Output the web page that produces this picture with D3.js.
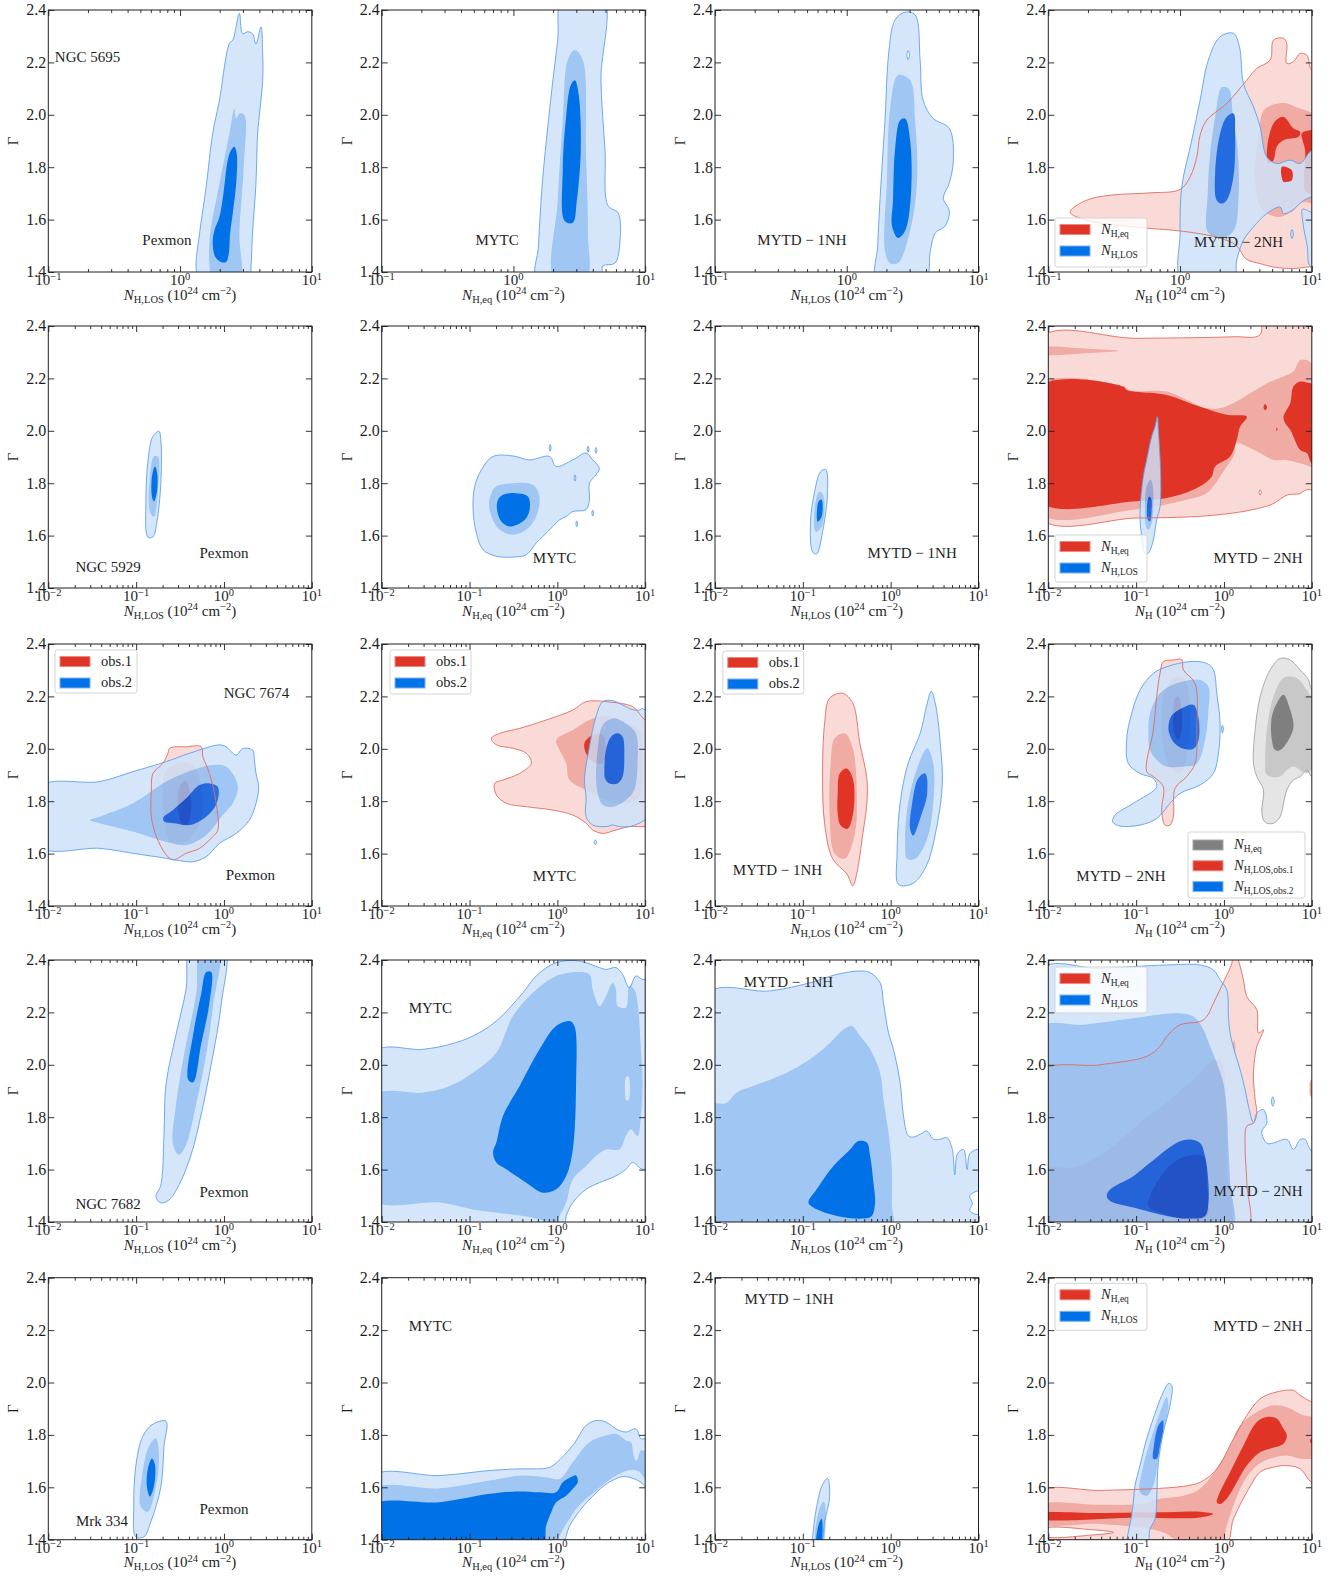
<!DOCTYPE html>
<html><head><meta charset="utf-8">
<script src="https://cdn.jsdelivr.net/npm/d3@7"></script>
<style>
body{margin:0;background:#fff;}
svg text{font-family:"Liberation Serif","Times New Roman",serif;fill:#1e1e1e;}
</style></head><body>
<svg id="fig" width="1339" height="1576"></svg>
<script>
// ---------- categories and axes ----------
const sources = ["NGC 5695", "NGC 5929", "NGC 7674", "NGC 7682", "Mrk 334"];
const models = ["Pexmon", "MYTC", "MYTD − 1NH", "MYTD − 2NH"];
const columnSubscript = ["H,LOS", "H,eq", "H,LOS", "H"];
const gammaTicks = [1.4, 1.6, 1.8, 2.0, 2.2, 2.4];
const nhDecadesByRow = [[-1, 0, 1], [-2, -1, 0, 1], [-2, -1, 0, 1], [-2, -1, 0, 1], [-2, -1, 0, 1]];

// ---------- credible-region contours: [light (outer), mid, dark (inner)] ----------
// vertices are [log10 N_H / 1e24 cm^-2, Gamma]

// NGC 5695
const n5695_pexmon = [
 [[[0.122,1.419],[0.148,1.547],[0.198,1.725],[0.248,1.929],[0.299,2.056],[0.375,2.273],[0.40,2.285],[0.45,2.387],[0.475,2.31],[0.513,2.317],[0.55,2.31],[0.576,2.27],[0.614,2.336],[0.627,2.234],[0.627,2.13],[0.589,1.929],[0.576,1.737],[0.55,1.547],[0.538,1.419],[0.526,1.37],[0.148,1.37]]],
 [[[0.274,1.674],[0.324,1.80],[0.375,1.929],[0.412,2.024],[0.425,1.986],[0.45,2.005],[0.488,1.999],[0.483,1.80],[0.45,1.547],[0.45,1.37],[0.248,1.37],[0.223,1.432],[0.223,1.521],[0.248,1.61]]],
 [[[0.412,1.878],[0.43,1.852],[0.428,1.75],[0.40,1.623],[0.38,1.547],[0.37,1.47],[0.349,1.438],[0.311,1.438],[0.268,1.457],[0.248,1.508],[0.261,1.559],[0.299,1.61],[0.329,1.699],[0.362,1.827],[0.387,1.865]]]
];
const n5695_mytc = [
 [[[0.18,1.37],[0.19,1.50],[0.221,1.749],[0.282,2.055],[0.336,2.285],[0.374,2.45],[0.679,2.45],[0.664,2.132],[0.695,1.864],[0.718,1.653],[0.794,1.626],[0.809,1.519],[0.771,1.434],[0.679,1.423],[0.664,1.37]]],
 [[[0.313,1.37],[0.336,1.672],[0.374,1.979],[0.412,2.208],[0.466,2.247],[0.527,2.208],[0.55,1.864],[0.565,1.557],[0.55,1.37]]],
 [[[0.389,1.595],[0.374,1.787],[0.397,1.979],[0.435,2.113],[0.466,2.132],[0.496,2.074],[0.511,1.864],[0.481,1.672],[0.45,1.588]]]
];
const n5695_mytd1 = [
 [[[0.229,1.37],[0.235,1.50],[0.252,1.672],[0.29,1.979],[0.321,2.247],[0.366,2.362],[0.443,2.392],[0.519,2.381],[0.557,2.208],[0.58,2.055],[0.656,1.986],[0.779,1.948],[0.809,1.825],[0.779,1.741],[0.733,1.68],[0.779,1.634],[0.748,1.576],[0.672,1.549],[0.634,1.48],[0.595,1.37]],
  [[0.456,2.228],[0.466,2.245],[0.476,2.228],[0.466,2.211]]],
 [[[0.29,1.48],[0.305,1.749],[0.328,2.017],[0.389,2.151],[0.481,2.132],[0.519,1.979],[0.534,1.749],[0.481,1.557],[0.389,1.434],[0.328,1.434]]],
 [[[0.351,1.672],[0.366,1.864],[0.405,1.979],[0.443,1.986],[0.481,1.902],[0.489,1.711],[0.443,1.557],[0.389,1.53],[0.344,1.576]]]
];
const n5695_mytd2_eq = [
 [[[-0.835,1.629],[-0.709,1.674],[-0.532,1.693],[-0.228,1.702],[0.0,1.715],[0.076,1.763],[0.127,1.839],[0.152,1.922],[0.203,1.98],[0.354,2.043],[0.506,2.132],[0.582,2.177],[0.684,2.209],[0.709,2.285],[0.785,2.292],[0.81,2.273],[0.81,2.196],[0.861,2.203],[0.911,2.234],[0.962,2.228],[1.0,2.171],[1.1,2.17],[1.1,1.40],[1.0,1.419],[0.861,1.413],[0.709,1.419],[0.608,1.432],[0.5,1.45],[0.43,1.50],[0.30,1.53],[0.10,1.55],[-0.05,1.559],[-0.354,1.572],[-0.709,1.597]]],
 [[[0.60,1.93],[0.64,2.02],[0.78,2.045],[0.88,2.03],[1.1,1.97],[1.1,1.66],[0.93,1.665],[0.85,1.63],[0.74,1.61],[0.62,1.64],[0.57,1.75]]],
 [[[0.658,1.852],[0.709,1.967],[0.785,1.992],[0.861,1.948],[0.911,1.935],[0.899,1.916],[0.785,1.903],[0.734,1.878],[0.709,1.827],[0.671,1.814]],
  [[0.924,1.929],[0.987,1.941],[1.05,1.94],[1.05,1.70],[0.987,1.699],[0.949,1.712],[0.949,1.865]]]
];
const n5695_mytd2_eqPeak = [[], [], [[[0.772,1.801],[0.848,1.788],[0.848,1.75],[0.81,1.744],[0.785,1.744]]]];
const n5695_mytd2_los = [
 [[[0.013,1.37],[0.0,1.547],[0.013,1.725],[0.089,1.903],[0.152,2.056],[0.215,2.209],[0.304,2.298],[0.405,2.311],[0.451,2.26],[0.481,2.12],[0.557,2.031],[0.608,1.954],[0.658,1.839],[0.734,1.814],[0.835,1.827],[0.911,1.814],[1.0,1.865],[1.1,1.87],[1.1,1.69],[1.0,1.687],[0.93,1.67],[0.85,1.635],[0.785,1.623],[0.759,1.648],[0.658,1.623],[0.557,1.572],[0.481,1.521],[0.43,1.445],[0.405,1.37]],
  [[0.93,1.64],[0.985,1.63],[1.1,1.6],[1.1,1.42],[0.99,1.42],[0.965,1.5],[0.935,1.58]],
  [[0.84,1.545],[0.85,1.562],[0.86,1.545],[0.85,1.528]]],
 [[[0.215,1.55],[0.21,1.70],[0.228,1.85],[0.27,2.0],[0.316,2.105],[0.37,2.10],[0.40,2.0],[0.44,1.85],[0.445,1.70],[0.41,1.56],[0.33,1.53]]],
 [[[0.278,1.674],[0.266,1.776],[0.304,1.929],[0.354,1.992],[0.405,2.005],[0.418,1.929],[0.405,1.763],[0.354,1.674],[0.316,1.661]]]
];

// NGC 5929
const n5929_pexmon = [
 [[[-0.866,1.595],[-0.889,1.73],[-0.866,1.883],[-0.809,1.979],[-0.74,1.998],[-0.718,1.96],[-0.718,1.806],[-0.763,1.653],[-0.809,1.595]]],
 [[[-0.843,1.691],[-0.843,1.825],[-0.798,1.902],[-0.752,1.902],[-0.752,1.768],[-0.798,1.672]]],
 [[[-0.82,1.749],[-0.82,1.825],[-0.786,1.864],[-0.763,1.844],[-0.763,1.768],[-0.798,1.73]]]
];
const n5929_mytc = [
 [[[-0.695,1.521],[-0.846,1.546],[-0.922,1.61],[-0.96,1.699],[-0.941,1.788],[-0.865,1.851],[-0.733,1.902],[-0.506,1.904],[-0.316,1.889],[-0.089,1.902],[-0.014,1.864],[0.176,1.889],[0.327,1.915],[0.403,1.889],[0.478,1.857],[0.44,1.832],[0.365,1.8],[0.365,1.737],[0.327,1.699],[0.176,1.692],[0.1,1.673],[0.024,1.66],[-0.051,1.635],[-0.165,1.597],[-0.241,1.572],[-0.354,1.527],[-0.506,1.518]],
  [[-0.092,1.935],[-0.082,1.948],[-0.072,1.935],[-0.082,1.922]],
  [[0.211,1.645],[0.221,1.656],[0.231,1.645],[0.221,1.634]],
  [[0.393,1.686],[0.403,1.697],[0.413,1.686],[0.403,1.675]],
  [[0.34,1.93],[0.35,1.942],[0.36,1.93],[0.35,1.918]],
  [[0.43,1.925],[0.44,1.936],[0.45,1.925],[0.44,1.914]],
  [[0.19,1.82],[0.2,1.832],[0.21,1.82],[0.2,1.808]]],
 [[[-0.751,1.762],[-0.695,1.788],[-0.506,1.8],[-0.278,1.794],[-0.203,1.749],[-0.241,1.673],[-0.354,1.622],[-0.506,1.603],[-0.657,1.622],[-0.751,1.673],[-0.778,1.724]]],
 [[[-0.676,1.737],[-0.619,1.756],[-0.468,1.762],[-0.335,1.749],[-0.316,1.699],[-0.373,1.66],[-0.543,1.635],[-0.638,1.654],[-0.687,1.699]]]
];
const n5929_mytd1 = [
 [[[-0.889,1.538],[-0.912,1.653],[-0.866,1.768],[-0.798,1.844],[-0.74,1.852],[-0.718,1.768],[-0.775,1.615],[-0.843,1.53]]],
 [[[-0.855,1.615],[-0.855,1.73],[-0.809,1.768],[-0.763,1.749],[-0.786,1.634]]],
 [[[-0.832,1.653],[-0.821,1.73],[-0.786,1.737],[-0.786,1.672]]]
];
const n5929_mytd2_eq = [
 [[[-2.1,2.353],[-1.0,2.353],[0.1,2.359],[0.41,2.366],[0.45,2.45],[1.1,2.45],[1.1,1.78],[0.94,1.775],[0.86,1.76],[0.72,1.755],[0.55,1.72],[0.34,1.70],[0.1,1.686],[-0.3,1.673],[-1.0,1.667],[-2.1,1.667]],
  [[0.40,1.765],[0.412,1.775],[0.425,1.765],[0.412,1.755]]],
 [[[-2.1,2.175],[-1.146,2.169],[-1.07,2.154],[-0.652,2.15],[-0.424,2.118],[-0.196,2.086],[0.0,2.09],[0.298,2.143],[0.488,2.181],[0.678,2.207],[0.791,2.226],[0.867,2.27],[0.943,2.27],[1.0,2.258],[1.1,2.25],[1.1,1.864],[0.867,1.876],[0.716,1.889],[0.563,1.889],[0.412,1.915],[0.26,1.94],[0.146,1.953],[0.108,1.902],[0.032,1.864],[-0.044,1.826],[-0.12,1.788],[-0.196,1.762],[-0.424,1.737],[-1.032,1.699],[-2.1,1.686]],
  [[-2.1,2.315],[-1.5,2.312],[-1.2,2.305],[-1.5,2.298],[-2.1,2.295]]],
 [[[-2.1,2.169],[-1.146,2.169],[-1.108,2.156],[-0.652,2.137],[-0.272,2.092],[0.032,2.061],[0.26,2.054],[0.184,2.016],[0.146,1.966],[0.07,1.902],[-0.101,1.864],[-0.139,1.826],[-0.272,1.788],[-0.576,1.749],[-1.032,1.73],[-2.1,1.73]],
  [[0.678,2.054],[0.754,2.105],[0.791,2.169],[0.867,2.188],[1.0,2.181],[1.1,2.18],[1.1,1.876],[1.0,1.876],[0.943,1.915],[0.867,1.927],[0.754,2.004],[0.697,2.029]],
  [[0.45,2.09],[0.469,2.102],[0.49,2.09],[0.469,2.078]],
  [[0.595,2.006],[0.602,2.013],[0.61,2.006],[0.602,1.999]]]
];
const n5929_mytd2_los = [
 [[[-0.899,1.533],[-0.937,1.597],[-0.956,1.686],[-0.918,1.826],[-0.88,1.889],[-0.823,1.978],[-0.785,2.016],[-0.758,2.054],[-0.747,2.003],[-0.72,1.826],[-0.728,1.711],[-0.766,1.661],[-0.804,1.584],[-0.861,1.533]]],
 [[[-0.887,1.635],[-0.899,1.711],[-0.88,1.788],[-0.834,1.813],[-0.811,1.788],[-0.804,1.711],[-0.823,1.648],[-0.861,1.622]]],
 [[[-0.868,1.661],[-0.876,1.711],[-0.853,1.749],[-0.83,1.743],[-0.823,1.699],[-0.842,1.654]]]
];

// NGC 7674 (two observations)
const n7674_pexmon_obs1 = [
 [[[-0.619,2.002],[-0.43,2.008],[-0.26,2.008],[-0.24,1.97],[-0.165,1.906],[-0.089,1.792],[-0.07,1.69],[-0.127,1.665],[-0.278,1.62],[-0.43,1.601],[-0.581,1.576],[-0.657,1.595],[-0.77,1.665],[-0.827,1.741],[-0.827,1.843],[-0.808,1.906],[-0.695,1.945],[-0.638,1.983]]],
 [[[-0.695,1.843],[-0.657,1.919],[-0.506,1.945],[-0.354,1.938],[-0.26,1.855],[-0.24,1.766],[-0.316,1.69],[-0.468,1.639],[-0.619,1.652],[-0.676,1.728]]],
 [[[-0.524,1.83],[-0.487,1.868],[-0.43,1.875],[-0.392,1.843],[-0.373,1.766],[-0.411,1.716],[-0.468,1.709],[-0.516,1.754]]]
];
const n7674_pexmon_obs2 = [
 [[[-2.1,1.855],[-1.414,1.875],[-1.035,1.913],[-0.657,1.951],[-0.392,1.983],[-0.051,2.015],[0.024,2.008],[0.138,1.976],[0.213,2.001],[0.327,1.995],[0.346,1.957],[0.365,1.906],[0.395,1.855],[0.365,1.792],[0.289,1.728],[0.138,1.677],[-0.051,1.639],[-0.203,1.588],[-0.354,1.569],[-0.506,1.573],[-0.657,1.582],[-1.035,1.601],[-1.414,1.62],[-2.1,1.626]]],
 [[[-1.527,1.728],[-1.414,1.741],[-1.035,1.792],[-0.657,1.875],[-0.354,1.919],[-0.127,1.938],[0.024,1.932],[0.138,1.881],[0.157,1.843],[0.1,1.792],[-0.013,1.747],[-0.203,1.671],[-0.43,1.633],[-0.733,1.652],[-1.035,1.684],[-1.414,1.716]]],
 [[[-0.695,1.735],[-0.581,1.766],[-0.43,1.811],[-0.278,1.862],[-0.165,1.868],[-0.07,1.855],[-0.082,1.792],[-0.203,1.741],[-0.392,1.709],[-0.562,1.716],[-0.676,1.722]]]
];
const n7674_mytc_obs1 = [
 [[[-0.751,2.04],[-0.657,2.059],[-0.43,2.078],[-0.127,2.11],[0.176,2.148],[0.327,2.18],[0.554,2.18],[0.857,2.161],[0.932,2.135],[1.0,2.11],[1.1,2.1],[1.1,1.71],[1.0,1.703],[0.819,1.703],[0.667,1.69],[0.516,1.677],[0.403,1.69],[0.327,1.716],[0.176,1.747],[-0.051,1.766],[-0.354,1.779],[-0.581,1.792],[-0.695,1.824],[-0.714,1.868],[-0.619,1.881],[-0.43,1.906],[-0.297,1.945],[-0.354,1.983],[-0.506,2.002],[-0.695,2.015]]],
 [[[-0.013,2.034],[0.176,2.072],[0.403,2.116],[0.592,2.123],[0.781,2.097],[0.932,2.072],[0.97,1.945],[0.932,1.817],[0.781,1.792],[0.554,1.805],[0.327,1.843],[0.138,1.881],[0.1,1.945],[0.024,1.996]]],
 [[[0.308,2.021],[0.403,2.053],[0.516,2.053],[0.554,1.996],[0.516,1.945],[0.44,1.945],[0.346,1.97]]]
];
const n7674_mytc_obs2 = [
 [[[0.327,1.817],[0.308,1.881],[0.365,2.008],[0.44,2.123],[0.516,2.18],[0.63,2.184],[0.743,2.167],[0.85,2.15],[0.932,2.148],[0.97,2.154],[1.0,2.148],[1.1,2.14],[1.1,1.72],[1.0,1.728],[0.932,1.716],[0.819,1.703],[0.705,1.703],[0.63,1.709],[0.554,1.703],[0.403,1.709],[0.327,1.741]],
  [[0.42,1.643],[0.433,1.652],[0.446,1.643],[0.433,1.634]]],
 [[[0.44,1.894],[0.459,1.995],[0.516,2.091],[0.63,2.116],[0.781,2.097],[0.894,2.059],[0.913,1.945],[0.875,1.843],[0.781,1.805],[0.63,1.779],[0.516,1.786],[0.459,1.83]]],
 [[[0.535,1.919],[0.554,1.996],[0.611,2.046],[0.686,2.059],[0.743,2.046],[0.762,1.97],[0.743,1.894],[0.686,1.868],[0.592,1.868],[0.543,1.887]]]
];
const n7674_mytd1_obs1 = [
 [[[-0.752,2.097],[-0.695,2.193],[-0.546,2.212],[-0.431,2.174],[-0.351,2.021],[-0.271,1.887],[-0.271,1.791],[-0.317,1.676],[-0.386,1.523],[-0.431,1.477],[-0.5,1.523],[-0.66,1.58],[-0.752,1.714],[-0.775,1.906]]],
 [[[-0.683,1.944],[-0.637,2.04],[-0.523,2.059],[-0.431,2.002],[-0.386,1.829],[-0.408,1.676],[-0.523,1.58],[-0.637,1.599],[-0.695,1.752]]],
 [[[-0.603,1.829],[-0.58,1.906],[-0.5,1.925],[-0.431,1.887],[-0.42,1.772],[-0.489,1.695],[-0.569,1.707],[-0.603,1.752]]]
];
const n7674_mytd1_obs2 = [
 [[[0.084,1.484],[0.073,1.599],[0.107,1.791],[0.198,1.944],[0.336,2.059],[0.416,2.174],[0.462,2.22],[0.508,2.174],[0.565,2.021],[0.588,1.867],[0.531,1.714],[0.416,1.561],[0.279,1.492],[0.164,1.477]]],
 [[[0.164,1.638],[0.198,1.791],[0.301,1.925],[0.416,2.002],[0.485,1.944],[0.485,1.791],[0.416,1.657],[0.279,1.58],[0.187,1.58]]],
 [[[0.221,1.695],[0.244,1.791],[0.313,1.887],[0.393,1.906],[0.416,1.829],[0.336,1.734],[0.256,1.669]]]
];
const n7674_mytd2_eq = [
 [[[0.45,1.728],[0.431,1.766],[0.45,1.843],[0.374,1.894],[0.336,1.944],[0.355,2.072],[0.412,2.199],[0.526,2.301],[0.64,2.345],[0.754,2.339],[0.868,2.301],[0.962,2.263],[1.0,2.224],[1.1,2.2],[1.1,1.894],[1.0,1.894],[0.943,1.919],[0.868,1.894],[0.791,1.881],[0.716,1.843],[0.678,1.792],[0.64,1.741],[0.564,1.716],[0.488,1.716]]],
 [[[0.469,1.944],[0.488,2.072],[0.564,2.199],[0.678,2.27],[0.83,2.27],[0.943,2.224],[1.0,2.199],[1.1,2.19],[1.1,1.919],[1.0,1.919],[0.943,1.906],[0.791,1.932],[0.716,1.919],[0.64,1.894],[0.526,1.894],[0.477,1.906]]],
 [[[0.545,2.034],[0.545,2.123],[0.602,2.174],[0.678,2.206],[0.754,2.148],[0.792,2.085],[0.735,2.034],[0.64,1.995],[0.583,1.995]]]
];
const n7674_mytd2_obs1 = [
 [[[-0.69,2.333],[-0.576,2.339],[-0.481,2.341],[-0.462,2.301],[-0.33,2.25],[-0.31,2.072],[-0.329,1.944],[-0.424,1.894],[-0.557,1.849],[-0.576,1.741],[-0.614,1.709],[-0.671,1.709],[-0.709,1.766],[-0.69,1.855],[-0.804,1.894],[-0.88,1.913],[-0.804,2.072],[-0.766,2.199],[-0.728,2.288]]],
 [[[-0.709,2.135],[-0.671,2.224],[-0.538,2.275],[-0.443,2.263],[-0.386,2.135],[-0.424,1.97],[-0.5,1.906],[-0.614,1.932],[-0.69,2.008]]],
 [[[-0.576,2.135],[-0.557,2.193],[-0.519,2.199],[-0.481,2.148],[-0.481,2.072],[-0.519,2.034],[-0.567,2.059]]]
];
const n7674_mytd2_obs2 = [
 [[[-0.652,2.313],[-0.804,2.288],[-0.956,2.224],[-1.07,2.11],[-1.108,2.034],[-1.089,1.944],[-0.956,1.906],[-0.804,1.887],[-0.766,1.855],[-1.032,1.792],[-1.24,1.747],[-1.267,1.721],[-1.183,1.705],[-0.956,1.709],[-0.766,1.734],[-0.614,1.792],[-0.5,1.83],[-0.272,1.862],[-0.12,1.906],[-0.063,1.983],[-0.044,2.097],[-0.082,2.212],[-0.12,2.301],[-0.196,2.326],[-0.386,2.333]],
  [[-0.027,2.075],[-0.017,2.09],[-0.007,2.075],[-0.017,2.06]]],
 [[[-0.861,2.059],[-0.842,2.135],[-0.728,2.212],[-0.538,2.25],[-0.272,2.263],[-0.177,2.237],[-0.177,2.148],[-0.215,2.034],[-0.31,1.944],[-0.462,1.932],[-0.652,1.932],[-0.766,1.957],[-0.842,1.995]]],
 [[[-0.633,2.082],[-0.595,2.127],[-0.462,2.158],[-0.348,2.168],[-0.291,2.12],[-0.291,2.031],[-0.348,2.0],[-0.462,2.0],[-0.557,2.019],[-0.614,2.05]]]
];

// NGC 7682
const n7682_pexmon = [
 [[[-0.775,1.496],[-0.718,1.542],[-0.683,1.733],[-0.66,1.925],[-0.546,2.116],[-0.431,2.289],[-0.374,2.45],[0.0,2.45],[-0.031,2.231],[-0.145,2.002],[-0.26,1.81],[-0.374,1.657],[-0.511,1.542],[-0.626,1.484],[-0.718,1.473]]],
 [[[-0.58,1.695],[-0.546,1.848],[-0.454,2.04],[-0.317,2.27],[-0.26,2.45],[-0.054,2.45],[-0.122,2.231],[-0.202,2.04],[-0.317,1.848],[-0.431,1.695],[-0.511,1.657]]],
 [[[-0.408,1.944],[-0.351,2.116],[-0.26,2.27],[-0.202,2.354],[-0.145,2.354],[-0.168,2.231],[-0.26,2.078],[-0.351,1.933]]]
];
const n7682_mytc = [
 [[[-2.1,2.046],[-1.527,2.059],[-1.224,2.078],[-0.96,2.11],[-0.695,2.167],[-0.392,2.275],[-0.241,2.339],[-0.014,2.39],[0.251,2.396],[0.478,2.371],[0.554,2.364],[0.667,2.371],[0.743,2.345],[0.819,2.294],[0.894,2.339],[0.97,2.326],[1.1,2.33],[1.1,1.62],[0.97,1.601],[0.857,1.627],[0.781,1.601],[0.667,1.576],[0.478,1.55],[0.327,1.525],[0.176,1.474],[0.1,1.423],[0.06,1.35],[-2.1,1.35]]],
 [[[-2.1,1.881],[-1.527,1.894],[-1.224,1.919],[-0.96,1.97],[-0.695,2.046],[-0.506,2.186],[-0.278,2.275],[-0.014,2.339],[0.251,2.354],[0.365,2.345],[0.403,2.288],[0.478,2.224],[0.554,2.263],[0.63,2.313],[0.667,2.288],[0.686,2.224],[0.781,2.218],[0.819,2.301],[0.875,2.288],[0.913,2.237],[0.951,2.059],[0.97,1.932],[0.951,1.805],[0.913,1.728],[0.838,1.754],[0.781,1.728],[0.705,1.677],[0.554,1.677],[0.44,1.652],[0.327,1.614],[0.176,1.563],[0.1,1.474],[0.024,1.423],[-0.03,1.39],[-0.2,1.41],[-0.392,1.423],[-0.96,1.448],[-1.338,1.474],[-2.1,1.486]],
  [[0.77,1.90],[0.785,1.955],[0.81,1.955],[0.825,1.90],[0.81,1.865],[0.785,1.865]]],
 [[[-0.733,1.665],[-0.695,1.703],[-0.619,1.805],[-0.43,1.919],[-0.203,2.059],[-0.014,2.148],[0.138,2.167],[0.194,2.148],[0.213,1.932],[0.176,1.677],[0.1,1.576],[-0.014,1.525],[-0.165,1.512],[-0.354,1.55],[-0.581,1.601],[-0.695,1.627]]]
];
const n7682_mytd1 = [
 [[[-2.1,2.269],[-1.373,2.282],[-0.918,2.313],[-0.614,2.345],[-0.348,2.358],[-0.234,2.352],[-0.12,2.313],[-0.082,2.237],[-0.025,2.123],[0.032,2.059],[0.108,1.932],[0.146,1.805],[0.203,1.728],[0.27,1.725],[0.336,1.735],[0.412,1.747],[0.488,1.716],[0.564,1.716],[0.64,1.722],[0.70,1.68],[0.73,1.58],[0.76,1.66],[0.83,1.677],[0.87,1.60],[0.9,1.66],[0.981,1.677],[1.1,1.68],[1.1,1.35],[-2.1,1.35]],
  [[1.05,1.52],[0.96,1.515],[0.90,1.50],[0.93,1.47],[0.90,1.445],[0.96,1.43],[1.05,1.435]]],
 [[[-2.1,1.843],[-1.867,1.855],[-1.753,1.894],[-1.563,1.919],[-1.183,1.97],[-0.918,2.021],[-0.69,2.084],[-0.538,2.135],[-0.443,2.148],[-0.348,2.11],[-0.234,2.059],[-0.12,1.97],[-0.082,1.868],[-0.025,1.741],[0.013,1.614],[0.013,1.474],[-0.006,1.35],[-2.1,1.35]]],
 [[[-0.937,1.474],[-0.842,1.525],[-0.652,1.614],[-0.462,1.677],[-0.367,1.709],[-0.272,1.703],[-0.234,1.652],[-0.196,1.55],[-0.177,1.474],[-0.215,1.423],[-0.31,1.413],[-0.614,1.423],[-0.88,1.455]]]
];
const n7682_mytd2_eq = [
 [[[-2.1,1.969],[-1.411,2.0],[-0.88,2.032],[-0.728,2.07],[-0.652,2.108],[-0.5,2.153],[-0.272,2.165],[-0.196,2.184],[-0.12,2.235],[0.006,2.324],[0.089,2.387],[0.108,2.45],[0.146,2.42],[0.222,2.324],[0.26,2.26],[0.374,2.21],[0.393,2.121],[0.45,2.134],[0.412,2.1],[0.374,2.07],[0.336,1.969],[0.355,1.867],[0.374,1.816],[0.336,1.778],[0.26,1.765],[0.241,1.677],[0.26,1.55],[0.241,1.35],[-2.1,1.35]]],
 [[[-2.1,1.60],[-1.7,1.61],[-1.3,1.68],[-0.95,1.78],[-0.6,1.87],[-0.3,1.96],[-0.1,2.02],[-0.02,2.0],[0.02,1.85],[0.04,1.6],[0.03,1.35],[-2.1,1.35]],
  [[0.10,2.07],[0.115,2.095],[0.13,2.07],[0.12,2.04],[0.105,2.04]],
  [[0.985,1.88],[0.975,1.91],[0.985,1.94],[1.05,1.94],[1.05,1.88]]],
 [[[-0.861,1.461],[-0.766,1.55],[-0.576,1.626],[-0.424,1.651],[-0.234,1.651],[-0.196,1.55],[-0.196,1.423],[-0.424,1.41],[-0.728,1.436]]]
];
const n7682_mytd2_los = [
 [[[-2.1,2.362],[-1.411,2.368],[-0.652,2.381],[-0.272,2.381],[-0.12,2.362],[-0.044,2.324],[0.032,2.286],[0.051,2.184],[0.07,2.121],[0.127,2.045],[0.184,1.981],[0.241,1.905],[0.279,1.842],[0.336,1.778],[0.374,1.816],[0.45,1.829],[0.488,1.778],[0.43,1.745],[0.49,1.70],[0.564,1.702],[0.716,1.715],[0.792,1.677],[0.868,1.715],[0.924,1.715],[0.962,1.689],[1.1,1.6],[1.1,1.35],[-2.1,1.35]],
  [[0.54,1.86],[0.556,1.878],[0.572,1.86],[0.556,1.842]]],
 [[[-2.1,2.14],[-1.601,2.153],[-1.032,2.178],[-0.538,2.197],[-0.348,2.184],[-0.234,2.134],[-0.158,2.07],[-0.082,2.007],[-0.006,1.93],[0.032,1.829],[0.051,1.677],[0.07,1.55],[0.07,1.35],[-2.1,1.35]]],
 [[[-1.335,1.499],[-1.297,1.524],[-1.032,1.575],[-0.842,1.626],[-0.652,1.677],[-0.5,1.708],[-0.386,1.715],[-0.272,1.702],[-0.215,1.651],[-0.177,1.55],[-0.177,1.474],[-0.215,1.423],[-0.424,1.413],[-0.652,1.423],[-1.032,1.455],[-1.297,1.48]]]
];

// Mrk 334
const mrk334_pexmon = [
 [[[-1.004,1.411],[-1.027,1.526],[-1.004,1.68],[-0.924,1.795],[-0.809,1.841],[-0.66,1.852],[-0.683,1.756],[-0.718,1.603],[-0.832,1.469],[-0.912,1.411]]],
 [[[-0.947,1.526],[-0.924,1.661],[-0.855,1.756],[-0.775,1.787],[-0.74,1.718],[-0.775,1.603],[-0.866,1.507]]],
 [[[-0.878,1.603],[-0.866,1.672],[-0.82,1.71],[-0.786,1.687],[-0.798,1.603],[-0.843,1.565]]]
];
const mrk334_mytc = [
 [[[-2.1,1.642],[-1.338,1.645],[-0.77,1.664],[-0.468,1.67],[-0.127,1.673],[-0.051,1.683],[0.176,1.76],[0.327,1.836],[0.44,1.855],[0.554,1.849],[0.667,1.823],[0.781,1.811],[0.894,1.823],[0.951,1.785],[0.989,1.785],[1.1,1.78],[1.1,1.60],[1.0,1.603],[0.95,1.62],[0.85,1.635],[0.748,1.641],[0.62,1.625],[0.519,1.603],[0.40,1.565],[0.29,1.526],[0.15,1.46],[0.004,1.37],[-2.1,1.37]]],
 [[[-2.1,1.591],[-1.338,1.596],[-0.77,1.626],[-0.392,1.645],[-0.127,1.638],[0.024,1.632],[0.176,1.696],[0.365,1.772],[0.554,1.798],[0.667,1.804],[0.781,1.779],[0.838,1.772],[0.87,1.72],[0.90,1.70],[0.95,1.74],[1.0,1.74],[1.1,1.74],[1.1,1.60],[1.0,1.63],[0.93,1.66],[0.82,1.665],[0.70,1.65],[0.634,1.638],[0.45,1.59],[0.233,1.526],[0.10,1.46],[-0.11,1.37],[-2.1,1.37]]],
 [[[-2.1,1.53],[-1.338,1.543],[-0.77,1.575],[-0.468,1.584],[-0.203,1.581],[-0.014,1.581],[0.062,1.619],[0.176,1.642],[0.213,1.645],[0.232,1.619],[0.176,1.594],[0.1,1.568],[-0.014,1.543],[-0.07,1.505],[-0.127,1.454],[-0.184,1.37],[-2.1,1.37]]]
];
const mrk334_mytd1 = [
 [[[-0.889,1.411],[-0.843,1.526],[-0.775,1.611],[-0.718,1.634],[-0.695,1.565],[-0.752,1.469],[-0.809,1.37],[-0.9,1.37]]],
 [[[-0.855,1.37],[-0.821,1.507],[-0.763,1.546],[-0.74,1.507],[-0.786,1.37]]],
 [[[-0.843,1.37],[-0.821,1.457],[-0.786,1.48],[-0.775,1.442],[-0.798,1.37]]]
];
const mrk334_mytd2_eq = [
 [[[-2.1,1.581],[-1.411,1.588],[-0.842,1.594],[-0.462,1.604],[-0.272,1.619],[-0.082,1.67],[0.108,1.785],[0.26,1.874],[0.412,1.938],[0.602,1.964],[0.792,1.97],[0.868,1.951],[1.0,1.926],[1.1,1.92],[1.1,1.62],[1.0,1.619],[0.868,1.67],[0.716,1.683],[0.564,1.677],[0.412,1.658],[0.26,1.581],[0.108,1.479],[-0.006,1.37],[-2.1,1.37]],
  [[-2.05,1.441],[-1.5,1.438],[-1.259,1.428],[-1.5,1.418],[-2.05,1.415]]],
 [[[-2.1,1.53],[-1.411,1.533],[-0.956,1.536],[-0.728,1.556],[-0.462,1.568],[-0.272,1.594],[0.032,1.734],[0.184,1.836],[0.374,1.887],[0.564,1.913],[0.716,1.906],[0.87,1.88],[1.1,1.85],[1.1,1.72],[0.868,1.709],[0.716,1.721],[0.526,1.709],[0.374,1.683],[0.222,1.619],[0.108,1.53],[0.032,1.454],[-0.044,1.37],[-0.424,1.37],[-0.652,1.422],[-0.842,1.441],[-1.411,1.46],[-2.1,1.464]]],
 [[[-2.1,1.498],[-1.411,1.502],[-0.652,1.505],[-0.272,1.507],[-0.12,1.498],[-0.272,1.485],[-1.032,1.484],[-2.1,1.482]],
  [[-0.082,1.543],[-0.063,1.568],[0.07,1.658],[0.222,1.76],[0.374,1.849],[0.488,1.868],[0.602,1.862],[0.678,1.823],[0.716,1.798],[0.678,1.766],[0.412,1.734],[0.26,1.683],[0.146,1.619],[0.032,1.556],[-0.044,1.536]],
  [[0.985,1.77],[0.99,1.786],[1.05,1.786],[1.05,1.77]]]
];
const mrk334_mytd2_los = [
 [[[-1.089,1.37],[-1.051,1.492],[-1.032,1.543],[-1.013,1.607],[-0.956,1.683],[-0.88,1.785],[-0.766,1.9],[-0.69,1.964],[-0.633,1.996],[-0.595,1.989],[-0.614,1.913],[-0.69,1.811],[-0.747,1.696],[-0.766,1.556],[-0.785,1.479],[-0.842,1.441],[-0.88,1.37]]],
 [[[-0.956,1.581],[-0.918,1.683],[-0.842,1.772],[-0.728,1.887],[-0.652,1.945],[-0.633,1.913],[-0.69,1.811],[-0.747,1.709],[-0.804,1.607],[-0.88,1.568]]],
 [[[-0.804,1.709],[-0.797,1.76],[-0.747,1.836],[-0.697,1.855],[-0.69,1.823],[-0.728,1.76],[-0.766,1.709]]]
];

// ---------- styling ----------
const palettes = {
  blue: {fill: ["#d6e6fa", "#a0c6f4", "#0071e6"], line: "#5ea0ec", swatch: "#0071e6", edge: "#7fb4f0"},
  red:  {fill: ["#f9dad6", "#f0aba4", "#e03526"], line: "#e26b5f", swatch: "#e03526", edge: "#ec8a80"},
  grey: {fill: ["#e5e5e5", "#c8c8c8", "#7f7f7f"], line: "#a3a3a3", swatch: "#808080", edge: "#a8a8a8"}
};
const TOP = 0.85; // opacity of a series drawn over another

const nhEq = {t: "N", sub: "H,eq"}, nhLos = {t: "N", sub: "H,LOS"};
const legendNH = [["red", nhEq], ["blue", nhLos]];
const legendObs = [["red", {t: "obs.1"}], ["blue", {t: "obs.2"}]];
const legendObs3 = [["grey", nhEq], ["red", {t: "N", sub: "H,LOS,obs.1"}], ["blue", {t: "N", sub: "H,LOS,obs.2"}]];

// panel table: row, column, series (in drawing order), annotation anchors in axes fractions, legend box in px
const panels = [
 {r:0,c:0, s:[{d:n5695_pexmon,c:"blue"}], src:[0.149,0.197], mdl:[0.450,0.897]},
 {r:0,c:1, s:[{d:n5695_mytc,c:"blue"}], mdl:[0.438,0.897]},
 {r:0,c:2, s:[{d:n5695_mytd1,c:"blue"}], mdl:[0.330,0.897]},
 {r:0,c:3, s:[{d:n5695_mytd2_eq,c:"red"},{d:n5695_mytd2_los,c:"blue",a:TOP},{d:n5695_mytd2_eqPeak,c:"red",noLine:true}], mdl:[0.722,0.905], leg:{box:[6.7,208,92,49],items:legendNH}},
 {r:1,c:0, s:[{d:n5929_pexmon,c:"blue"}], src:[0.227,0.939], mdl:[0.667,0.885]},
 {r:1,c:1, s:[{d:n5929_mytc,c:"blue"}], mdl:[0.656,0.905]},
 {r:1,c:2, s:[{d:n5929_mytd1,c:"blue"}], mdl:[0.748,0.885]},
 {r:1,c:3, s:[{d:n5929_mytd2_eq,c:"red"},{d:n5929_mytd2_los,c:"blue",a:TOP}], mdl:[0.796,0.903], leg:{box:[6.7,209,92,47],items:legendNH}},
 {r:2,c:0, s:[{d:n7674_pexmon_obs1,c:"red"},{d:n7674_pexmon_obs2,c:"blue",a:TOP}], src:[0.790,0.206], mdl:[0.767,0.901], leg:{box:[6.7,6,82,43],items:legendObs}},
 {r:2,c:1, s:[{d:n7674_mytc_obs1,c:"red"},{d:n7674_mytc_obs2,c:"blue",a:TOP}], mdl:[0.656,0.903], leg:{box:[8.3,6,81,44],items:legendObs}},
 {r:2,c:2, s:[{d:n7674_mytd1_obs1,c:"red"},{d:n7674_mytd1_obs2,c:"blue",a:TOP}], mdl:[0.237,0.882], leg:{box:[7.8,7,81,43],items:legendObs}},
 {r:2,c:3, s:[{d:n7674_mytd2_eq,c:"grey"},{d:n7674_mytd2_obs1,c:"red"},{d:n7674_mytd2_obs2,c:"blue",a:TOP}], mdl:[0.276,0.905], leg:{box:[139.7,188,117,66],items:legendObs3}},
 {r:3,c:0, s:[{d:n7682_pexmon,c:"blue"}], src:[0.227,0.950], mdl:[0.667,0.905]},
 {r:3,c:1, s:[{d:n7682_mytc,c:"blue"}], mdl:[0.185,0.201]},
 {r:3,c:2, s:[{d:n7682_mytd1,c:"blue"}], mdl:[0.279,0.103]},
 {r:3,c:3, s:[{d:n7682_mytd2_eq,c:"red"},{d:n7682_mytd2_los,c:"blue",a:TOP}], mdl:[0.796,0.901], leg:{box:[6.7,7,92,46],items:legendNH}},
 {r:4,c:0, s:[{d:mrk334_pexmon,c:"blue"}], src:[0.204,0.948], mdl:[0.667,0.902]},
 {r:4,c:1, s:[{d:mrk334_mytc,c:"blue"}], mdl:[0.185,0.202]},
 {r:4,c:2, s:[{d:mrk334_mytd1,c:"blue"}], mdl:[0.281,0.100]},
 {r:4,c:3, s:[{d:mrk334_mytd2_eq,c:"red"},{d:mrk334_mytd2_los,c:"blue",a:TOP}], mdl:[0.796,0.202], leg:{box:[6.7,5.6,92,47],items:legendNH}}
];

// ---------- layout ----------
const PW = 263.5, PH = 262;
const colX = [48.3, 381.7, 715, 1048.3];
const rowY = [10, 326, 644, 960, 1277.7];
const FS = 15, FS_TICK = 16, FS_SMALL = 10.5;
const ink = "#1e1e1e";

// colour that, laid at opacity a over white, shows as hex
function tint(hex, a) {
  if (a >= 1) return hex;
  const c = d3.rgb(hex), f = v => Math.max(0, Math.min(255, 255 - (255 - v) / a));
  return d3.rgb(f(c.r), f(c.g), f(c.b)).formatHex();
}
const supMinus = k => (k < 0 ? "−" + Math.abs(k) : String(k));

function nhText(sel, label, size, subSize) {
  sel.append("tspan").attr("font-style", "italic").attr("font-size", size).text(label.t);
  if (label.sub) sel.append("tspan").attr("font-size", subSize).attr("dy", size * 0.22).text(label.sub);
}

const svg = d3.select("#fig");

panels.forEach((p, i) => {
  const g = svg.append("g").attr("transform", `translate(${colX[p.c]},${rowY[p.r]})`);
  const dec = nhDecadesByRow[p.r];
  const x = d3.scaleLog().domain([10 ** dec[0], 10 ** dec[dec.length - 1]]).range([0, PW]);
  const y = d3.scaleLinear().domain([1.4, 2.4]).range([PH, 0]);
  const line = d3.line().curve(d3.curveCatmullRomClosed.alpha(0.5))
    .x(v => x(10 ** v[0])).y(v => y(v[1]));

  const clipId = "plotclip" + i;
  g.append("clipPath").attr("id", clipId).append("rect").attr("width", PW).attr("height", PH);
  const plot = g.append("g").attr("clip-path", `url(#${clipId})`);

  // filled credible regions
  p.s.forEach(s => {
    const pal = palettes[s.c], a = s.a || 1;
    const sg = plot.append("g").attr("opacity", a);
    s.d.forEach((polys, lev) => {
      if (!polys.length) return;
      sg.append("path").attr("d", polys.map(line).join(""))
        .attr("fill", tint(pal.fill[lev], a)).attr("fill-rule", "evenodd");
    });
  });
  // outer contour lines on top
  p.s.forEach(s => {
    if (s.noLine || !s.d[0].length) return;
    plot.append("path").attr("d", s.d[0].map(line).join(""))
      .attr("fill", "none").attr("stroke", palettes[s.c].line).attr("stroke-width", 0.9);
  });

  // frame
  g.append("rect").attr("width", PW).attr("height", PH).attr("fill", "none")
    .attr("stroke", ink).attr("stroke-width", 1);

  // ticks on all four sides, pointing inward
  const majors = dec.map(k => 10 ** k);
  const minors = [];
  dec.slice(0, -1).forEach(k => { for (let m = 2; m <= 9; m++) minors.push(m * 10 ** k); });
  const tickAxis = (gen, tx, ty, vals, len) => {
    g.append("g").attr("transform", `translate(${tx},${ty})`).attr("color", ink)
      .call(gen.tickValues(vals).tickSize(-len).tickFormat(() => ""))
      .call(a => a.select(".domain").remove())
      .call(a => a.selectAll("text").remove())
      .call(a => a.selectAll("line").attr("stroke-width", 0.9));
  };
  tickAxis(d3.axisBottom(x), 0, PH, majors, 6);
  tickAxis(d3.axisBottom(x), 0, PH, minors, 3);
  tickAxis(d3.axisTop(x), 0, 0, majors, 6);
  tickAxis(d3.axisTop(x), 0, 0, minors, 3);
  tickAxis(d3.axisLeft(y), 0, 0, gammaTicks, 6);
  tickAxis(d3.axisRight(y), PW, 0, gammaTicks, 6);

  // tick labels
  gammaTicks.forEach(v => {
    g.append("text").attr("x", -2).attr("y", y(v)).attr("dy", "0.34em")
      .attr("text-anchor", "end").attr("font-size", FS_TICK).text(v.toFixed(1));
  });
  dec.forEach(k => {
    const t = g.append("text").attr("x", x(10 ** k)).attr("y", PH + 13)
      .attr("text-anchor", "middle").attr("font-size", FS);
    t.append("tspan").text("10");
    t.append("tspan").attr("font-size", FS_SMALL).attr("dy", -5.5).text(supMinus(k));
  });

  // axis titles
  const xl = g.append("text").attr("x", PW / 2).attr("y", PH + 27.5).attr("text-anchor", "middle").attr("font-size", FS);
  xl.append("tspan").attr("font-style", "italic").text("N");
  xl.append("tspan").attr("font-size", FS_SMALL).attr("dy", 3).text(columnSubscript[p.c]);
  xl.append("tspan").attr("dy", -3).text(" (10");
  xl.append("tspan").attr("font-size", FS_SMALL).attr("dy", -5.5).text("24");
  xl.append("tspan").attr("dy", 5.5).text(" cm");
  xl.append("tspan").attr("font-size", FS_SMALL).attr("dy", -5.5).text("−2");
  xl.append("tspan").attr("dy", 5.5).text(")");
  g.append("text").attr("transform", `translate(-30,${PH / 2}) rotate(-90)`)
    .attr("text-anchor", "middle").attr("font-size", FS).text("Γ");

  // annotations
  if (p.src) g.append("text").attr("x", p.src[0] * PW).attr("y", p.src[1] * PH)
    .attr("text-anchor", "middle").attr("font-size", FS).text(sources[p.r]);
  g.append("text").attr("x", p.mdl[0] * PW).attr("y", p.mdl[1] * PH)
    .attr("text-anchor", "middle").attr("font-size", FS).text(models[p.c]);

  // legend
  if (p.leg) {
    const [bx, by, bw, bh] = p.leg.box;
    g.append("rect").attr("x", bx).attr("y", by).attr("width", bw).attr("height", bh)
      .attr("rx", 2.5).attr("fill", "#fff").attr("fill-opacity", 0.8)
      .attr("stroke", "#d4d4d4").attr("stroke-width", 1);
    const step = p.leg.items.length === 3 ? 20.8 : 21.5;
    const y0 = p.leg.items.length === 3 ? by + 8 : by + 6.5;
    p.leg.items.forEach(([ck, lab], j) => {
      const pal = palettes[ck], yy = y0 + j * step;
      g.append("rect").attr("x", bx + 5).attr("y", yy).attr("width", 30).attr("height", 10)
        .attr("fill", pal.swatch).attr("stroke", pal.edge).attr("stroke-width", 1);
      const t = g.append("text").attr("x", bx + 46).attr("y", yy + 9);
      if (lab.sub) nhText(t, lab, 14.5, 9.5);
      else t.attr("font-size", 14.5).text(lab.t);
    });
  }
});
</script>
</body></html>
